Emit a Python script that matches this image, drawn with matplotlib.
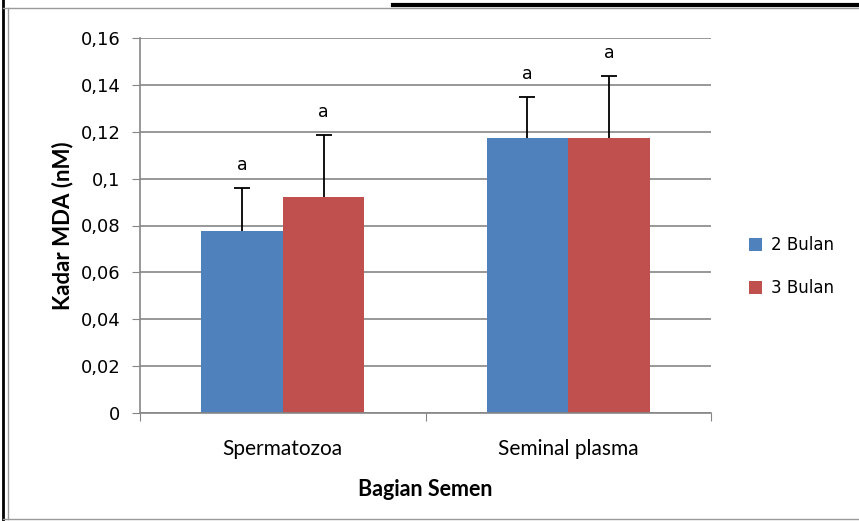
import matplotlib.pyplot as plt
import numpy as np
from matplotlib.lines import Line2D

categories = ["Spermatozoa", "Seminal plasma"]
series = ["2 Bulan", "3 Bulan"]
values_2 = [0.0776, 0.1173]
values_3 = [0.0921, 0.1173]
err_2 = [0.0183, 0.0175]
err_3 = [0.0265, 0.0264]
letters_2 = ["a", "a"]
letters_3 = ["a", "a"]
y_ticks = [0, 0.02, 0.04, 0.06, 0.08, 0.1, 0.12, 0.14, 0.16]
y_tick_labels = ["0", "0,02", "0,04", "0,06", "0,08", "0,1", "0,12", "0,14", "0,16"]

blue = "#4F81BD"
red = "#C0504D"
grid_gray = "#868686"

fig = plt.figure(figsize=(8.59, 5.21), dpi=100)
ax = fig.add_axes([140 / 859, 1 - 413 / 521, 571 / 859, 375 / 521])

x = np.arange(len(categories))
w = 1 / 3.5
ax.bar(x - w / 2, values_2, w, color=blue, label=series[0], zorder=2)
ax.bar(x + w / 2, values_3, w, color=red, label=series[1], zorder=2)

# upper error bars only (stem + top cap)
for xs, vals, errs in [(x - w / 2, values_2, err_2), (x + w / 2, values_3, err_3)]:
    tops = np.array(vals) + np.array(errs)
    ax.vlines(xs, vals, tops, color="black", linewidth=1.3, zorder=3)
    ax.plot(xs, tops, linestyle="none", marker="_", markersize=12,
            markeredgewidth=1.3, color="black", zorder=3)

for xi, v, e, t in zip(x - w / 2, values_2, err_2, letters_2):
    ax.text(xi, v + e + 0.006, t, ha="center", va="bottom", fontsize=12.5,
            family="DejaVu Sans")
for xi, v, e, t in zip(x + w / 2, values_3, err_3, letters_3):
    ax.text(xi, v + e + 0.006, t, ha="center", va="bottom", fontsize=12.5,
            family="DejaVu Sans")

ax.set_xlim(-0.5, 1.5)
ax.set_ylim(0, 0.16)
ax.set_yticks(y_ticks)
ax.set_yticklabels(y_tick_labels, fontsize=13, family="DejaVu Sans")
ax.yaxis.grid(True, color=grid_gray, linewidth=1.2, zorder=0)
ax.set_axisbelow(True)

ax.set_xticks([-0.5, 0.5, 1.5])
ax.set_xticklabels([])
ax.set_xticks(x, minor=True)
ax.set_xticklabels(categories, minor=True, fontsize=15, family="Lato")
ax.tick_params(axis="x", which="minor", length=0, pad=19)
ax.tick_params(axis="x", which="major", length=6, color=grid_gray, direction="out")
ax.tick_params(axis="y", length=6, color=grid_gray, direction="out", pad=8)

for s in ["top", "right"]:
    ax.spines[s].set_visible(False)
ax.spines["left"].set_color(grid_gray)
ax.spines["bottom"].set_color(grid_gray)
ax.spines["left"].set_linewidth(1.2)
ax.spines["bottom"].set_linewidth(1.2)

ax.set_xlabel("Bagian Semen", fontsize=15.5, fontweight="bold", family="Lato", labelpad=14)
ax.set_ylabel("Kadar MDA (nM)", fontsize=16, fontweight="bold", family="Lato", labelpad=5)

ax.legend(loc="center left", bbox_to_anchor=(1.04, 0.39), frameon=False,
          prop={"family": "DejaVu Sans", "size": 12}, handlelength=0.8,
          handleheight=0.8, handletextpad=0.5, labelspacing=1.5)

# picture frame
fw, fh = 859, 521
def fline(x0, y0, x1, y1, color, lw):
    fig.add_artist(Line2D([x0 / fw, x1 / fw], [1 - y0 / fh, 1 - y1 / fh],
                          color=color, linewidth=lw, transform=fig.transFigure))

fline(3, 0, 3, 521, "black", 2)
fline(8, 8, 8, 519, "#9a9a9a", 1)
fline(3, 8, 859, 8, "#9a9a9a", 1)
fline(393, 5, 859, 5, "black", 3)
fline(3, 519, 859, 519, "#9a9a9a", 1)

fig.savefig("out.png", dpi=100)
